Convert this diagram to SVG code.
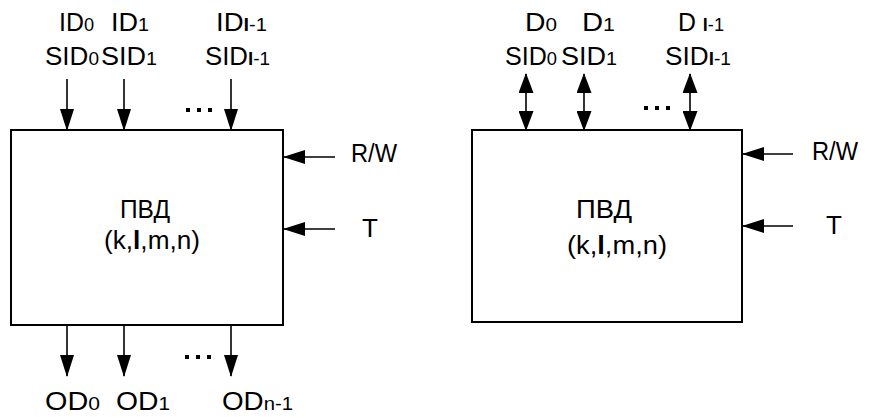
<svg xmlns="http://www.w3.org/2000/svg" width="872" height="417" viewBox="0 0 872 417">
<style>
text{font-family:"Liberation Sans",Arial,sans-serif;font-size:26px;fill:#000}
.sub{font-size:19px}
.b{font-weight:bold}
.box{fill:#fff;stroke:#000;stroke-width:2}
.ln{stroke:#000;stroke-width:1.6;fill:none}
.dot{fill:#000}
</style>
<defs>
<marker id="ah" markerWidth="22" markerHeight="14" refX="21" refY="7" orient="auto" markerUnits="userSpaceOnUse"><path d="M0,0 L22,7 L0,14 z" fill="#000"/></marker>
<marker id="ah2" markerWidth="20" markerHeight="15" refX="19" refY="7.5" orient="auto-start-reverse" markerUnits="userSpaceOnUse"><path d="M0,0 L20,7.5 L0,15 z" fill="#000"/></marker>
</defs>
<rect width="872" height="417" fill="#fff"/>
<g id="block1">
<rect class="box" x="11" y="130" width="272" height="195"/>
<text x="120" y="218" textLength="50" lengthAdjust="spacingAndGlyphs">ПВД</text>
<text x="104" y="249" textLength="96" lengthAdjust="spacingAndGlyphs">(k,<tspan class="b">l</tspan>,m,n)</text>
</g>
<g id="block2">
<rect class="box" x="472" y="130" width="270" height="192"/>
<text x="576" y="218" textLength="56" lengthAdjust="spacingAndGlyphs">ПВД</text>
<text x="567" y="254" textLength="100" lengthAdjust="spacingAndGlyphs">(k,<tspan class="b">l</tspan>,m,n)</text>
</g>
<g id="labels1">
<text x="59" y="31" textLength="35" lengthAdjust="spacingAndGlyphs">ID<tspan class="sub">0</tspan></text>
<text x="111" y="31" textLength="38" lengthAdjust="spacingAndGlyphs">ID<tspan class="sub">1</tspan></text>
<text x="216" y="31" textLength="51" lengthAdjust="spacingAndGlyphs">ID<tspan class="sub"><tspan class="b">l</tspan>-1</tspan></text>
<text x="45" y="65" textLength="54" lengthAdjust="spacingAndGlyphs">SID<tspan class="sub">0</tspan></text>
<text x="101" y="65" textLength="56" lengthAdjust="spacingAndGlyphs">SID<tspan class="sub">1</tspan></text>
<text x="205" y="65" textLength="65" lengthAdjust="spacingAndGlyphs">SID<tspan class="sub"><tspan class="b">l</tspan>-1</tspan></text>
<text x="45" y="410" textLength="55" lengthAdjust="spacingAndGlyphs">OD<tspan class="sub">0</tspan></text>
<text x="116" y="410" textLength="54" lengthAdjust="spacingAndGlyphs">OD<tspan class="sub">1</tspan></text>
<text x="222" y="410" textLength="71" lengthAdjust="spacingAndGlyphs">OD<tspan class="sub">n-1</tspan></text>
<text x="351" y="162" textLength="46" lengthAdjust="spacingAndGlyphs">R/W</text>
<text x="362" y="237">T</text>
</g>
<g id="labels2">
<text x="525" y="31" textLength="32" lengthAdjust="spacingAndGlyphs">D<tspan class="sub">0</tspan></text>
<text x="582" y="31" textLength="33" lengthAdjust="spacingAndGlyphs">D<tspan class="sub">1</tspan></text>
<text x="678" y="31" textLength="46" lengthAdjust="spacingAndGlyphs">D <tspan class="sub"><tspan class="b">l</tspan>-1</tspan></text>
<text x="505" y="65" textLength="52" lengthAdjust="spacingAndGlyphs">SID<tspan class="sub">0</tspan></text>
<text x="561" y="65" textLength="56" lengthAdjust="spacingAndGlyphs">SID<tspan class="sub">1</tspan></text>
<text x="665" y="65" textLength="66" lengthAdjust="spacingAndGlyphs">SID<tspan class="sub"><tspan class="b">l</tspan>-1</tspan></text>
<text x="812" y="160" textLength="46" lengthAdjust="spacingAndGlyphs">R/W</text>
<text x="826" y="234">T</text>
</g>
<g id="connectors">
<line class="ln" x1="67" y1="79" x2="67" y2="130" marker-end="url(#ah)"/>
<line class="ln" x1="124" y1="79" x2="124" y2="130" marker-end="url(#ah)"/>
<line class="ln" x1="231" y1="79" x2="231" y2="130" marker-end="url(#ah)"/>
<line class="ln" x1="67" y1="325" x2="67" y2="376" marker-end="url(#ah)"/>
<line class="ln" x1="124" y1="325" x2="124" y2="376" marker-end="url(#ah)"/>
<line class="ln" x1="231" y1="325" x2="231" y2="376" marker-end="url(#ah)"/>
<line class="ln" x1="335" y1="157" x2="284" y2="157" marker-end="url(#ah)"/>
<line class="ln" x1="335" y1="229" x2="284" y2="229" marker-end="url(#ah)"/>
<line class="ln" x1="526" y1="74" x2="526" y2="130" marker-start="url(#ah2)" marker-end="url(#ah2)"/>
<line class="ln" x1="584" y1="74" x2="584" y2="130" marker-start="url(#ah2)" marker-end="url(#ah2)"/>
<line class="ln" x1="690" y1="74" x2="690" y2="130" marker-start="url(#ah2)" marker-end="url(#ah2)"/>
<line class="ln" x1="793" y1="154" x2="743" y2="154" marker-end="url(#ah)"/>
<line class="ln" x1="793" y1="226" x2="743" y2="226" marker-end="url(#ah)"/>
<g class="dot">
<rect x="186" y="108" width="4" height="4"/><rect x="197" y="108" width="4" height="4"/><rect x="208" y="108" width="4" height="4"/>
<rect x="185" y="355" width="4" height="4"/><rect x="196" y="355" width="4" height="4"/><rect x="207" y="355" width="4" height="4"/>
<rect x="644" y="106" width="4" height="4"/><rect x="655" y="106" width="4" height="4"/><rect x="666" y="106" width="4" height="4"/>
</g>
</g>
</svg>
